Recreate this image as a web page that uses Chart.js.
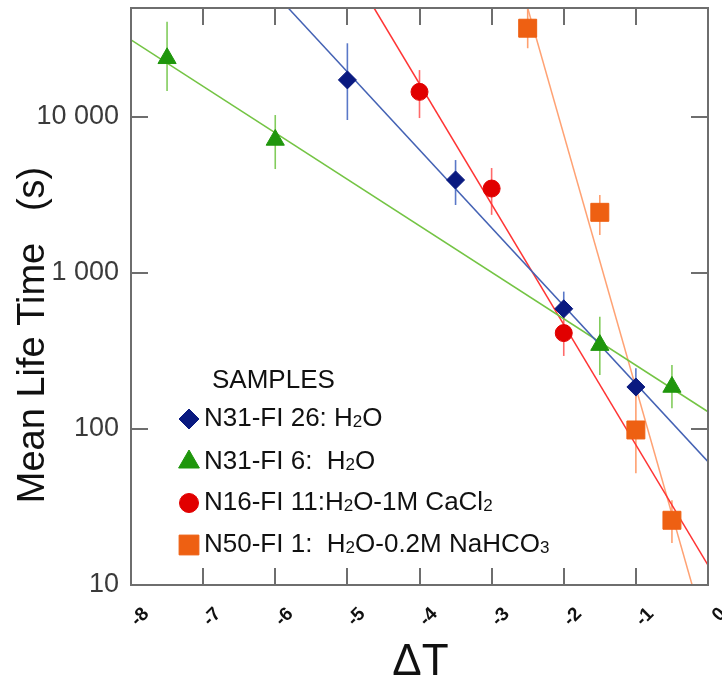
<!DOCTYPE html>
<html>
<head>
<meta charset="utf-8">
<script src="https://cdn.jsdelivr.net/npm/chart.js@4"></script>
<style>
  html, body { margin: 0; padding: 0; background: #fff; }
</style>
</head>
<body>
<canvas id="chart" width="722" height="682"></canvas>
<script>
// axis ticks
const xTicks = [-8, -7, -6, -5, -4, -3, -2, -1, 0];
const yTicks = [10, 100, 1000, 10000];

const legendTitle = "SAMPLES";
const seriesNames = [
    "N31-FI 26: H₂O",
    "N31-FI 6:  H₂O",
    "N16-FI 11:H₂O-1M CaCl₂",
    "N50-FI 1:  H₂O-0.2M NaHCO₃"
];

// N31-FI 26
const blueX = [-5, -3.5, -2, -1];
const blueY = [17300, 3950, 590, 186];
const blueLo = [9570, 2730, 500, 160];
const blueHi = [29700, 5300, 760, 245];
const blueFitX = [-5.82, 0];
const blueFitY = [50000, 61.7];

// N31-FI 6
const greenX = [-7.5, -6, -1.5, -0.5];
const greenY = [23800, 7130, 345, 186];
const greenLo = [14700, 4640, 222, 136];
const greenHi = [40800, 10300, 525, 257];
const greenFitX = [-8, 0];
const greenFitY = [31200, 129];

// N16-FI 11
const redX = [-4, -3, -2];
const redY = [14500, 3480, 412];
const redLo = [9850, 2360, 294];
const redHi = [20000, 4710, 575];
const redFitX = [-4.63, 0];
const redFitY = [50000, 13.4];

// N50-FI 1
const orangeX = [-2.5, -1.5, -1, -0.5];
const orangeY = [37100, 2450, 98.6, 26];
const orangeLo = [27600, 1750, 52, 18.6];
const orangeHi = [60000, 3160, 185, 35];
const orangeFitX = [-2.5, -0.22];
const orangeFitY = [50000, 10];

const FONT = '"Liberation Sans", Arial, Helvetica, sans-serif';

const series = [
    { x: blueX, y: blueY, lo: blueLo, hi: blueHi, fx: blueFitX, fy: blueFitY,
      style: "rectRot", r: 9, lr: 10, mark: "#0a1a80", line: "#4462b4", err: "#5a78c8" },
    { x: greenX, y: greenY, lo: greenLo, hi: greenHi, fx: greenFitX, fy: greenFitY,
      style: "triangle", r: 10.5, lr: 12, mark: "#1f960c", line: "#74c444", err: "#82cc5c" },
    { x: redX, y: redY, lo: redLo, hi: redHi, fx: redFitX, fy: redFitY,
      style: "circle", r: 8.5, lr: 9.5, mark: "#e10000", line: "#ff3434", err: "#ff6a6a" },
    { x: orangeX, y: orangeY, lo: orangeLo, hi: orangeHi, fx: orangeFitX, fy: orangeFitY,
      style: "rect", r: 12.7, lr: 14, mark: "#ee6012", line: "#ffa274", err: "#ffa070" }
];

const pts = (xs, ys) => xs.map((x, i) => ({ x, y: ys[i] }));

const datasets = [];
series.forEach((s, i) => {
    datasets.push({
        label: seriesNames[i],
        data: pts(s.x, s.y),
        showLine: false,
        pointStyle: s.style,
        pointRadius: s.r,
        backgroundColor: s.mark,
        borderColor: s.mark,
        borderWidth: 1,
        order: 1
    });
    datasets.push({
        label: seriesNames[i] + " fit",
        data: pts(s.fx, s.fy),
        showLine: true,
        pointRadius: 0,
        borderColor: s.line,
        borderWidth: 1.5,
        fill: false,
        order: 2
    });
});

function fmtTick(v) {
    return String(v).replace(/\B(?=(\d{3})+(?!\d))/g, " ");
}

// vertical error bars under the markers
const errorBars = {
    id: "errorBars",
    beforeDatasetsDraw(chart) {
        const { ctx, chartArea: a, scales: { x, y } } = chart;
        ctx.save();
        ctx.beginPath();
        ctx.rect(a.left, a.top, a.right - a.left, a.bottom - a.top);
        ctx.clip();
        ctx.lineWidth = 1.6;
        series.forEach(s => {
            ctx.strokeStyle = s.err;
            s.x.forEach((v, i) => {
                const px = x.getPixelForValue(v);
                ctx.beginPath();
                ctx.moveTo(px, y.getPixelForValue(s.hi[i]));
                ctx.lineTo(px, y.getPixelForValue(s.lo[i]));
                ctx.stroke();
            });
        });
        ctx.restore();
    }
};

// box with inward ticks + axis titles
const frame = {
    id: "frame",
    afterDatasetsDraw(chart) {
        const { ctx, chartArea: a, scales: { x, y } } = chart;
        ctx.save();
        ctx.strokeStyle = "#6e6e6e";
        ctx.lineWidth = 2;
        ctx.strokeRect(a.left, a.top, a.right - a.left, a.bottom - a.top);
        ctx.beginPath();
        const tl = 17;
        xTicks.forEach(v => {
            const px = Math.round(x.getPixelForValue(v));
            ctx.moveTo(px, a.top); ctx.lineTo(px, a.top + tl);
            ctx.moveTo(px, a.bottom); ctx.lineTo(px, a.bottom - tl);
        });
        yTicks.forEach(v => {
            const py = Math.round(y.getPixelForValue(v));
            ctx.moveTo(a.left, py); ctx.lineTo(a.left + tl, py);
            ctx.moveTo(a.right, py); ctx.lineTo(a.right - tl, py);
        });
        ctx.stroke();

        ctx.fillStyle = "#111";
        ctx.textAlign = "center";
        ctx.textBaseline = "alphabetic";
        ctx.font = "44px " + FONT;
        ctx.fillText("ΔT", (a.left + a.right) / 2 + 1, 675);

        ctx.translate(44, 335);
        ctx.rotate(-Math.PI / 2);
        ctx.font = "38px " + FONT;
        ctx.fillText("Mean Life Time   (s)", 0, 0);
        ctx.restore();
    }
};

function drawRich(ctx, text, x, y, size) {
    let cx = x;
    text.split(/([₀-₉]+)/).forEach(part => {
        if (!part) return;
        const sub = /[₀-₉]/.test(part);
        const t = sub ? part.replace(/[₀-₉]/g, c => String.fromCharCode(c.charCodeAt(0) - 0x2080 + 48)) : part;
        ctx.font = (sub ? Math.round(size * 0.64) : size) + "px " + FONT;
        ctx.fillText(t, cx, sub ? y + 3 : y);
        cx += ctx.measureText(t).width;
    });
}

const legendBox = {
    id: "legendBox",
    afterDraw(chart) {
        const ctx = chart.ctx;
        const rows = [419, 462, 503, 545];
        ctx.save();
        ctx.fillStyle = "#111";
        ctx.textAlign = "left";
        ctx.textBaseline = "middle";
        ctx.font = "26px " + FONT;
        ctx.fillText(legendTitle, 212, 381);
        series.forEach((s, i) => {
            ctx.fillStyle = s.mark;
            ctx.strokeStyle = s.mark;
            ctx.lineWidth = 1;
            Chart.helpers.drawPoint(ctx, { pointStyle: s.style, radius: s.lr, rotation: 0, borderWidth: 1 }, 189, rows[i]);
            ctx.fillStyle = "#111";
            drawRich(ctx, seriesNames[i], 204, rows[i], 26);
        });
        ctx.restore();
    }
};

new Chart(document.getElementById("chart"), {
    type: "scatter",
    data: { datasets },
    options: {
        responsive: false,
        animation: false,
        events: [],
        layout: { autoPadding: false, padding: { top: 8, right: 14, left: 0, bottom: 0 } },
        plugins: { legend: { display: false }, tooltip: { enabled: false } },
        scales: {
            x: {
                type: "linear",
                min: -8,
                max: 0,
                grid: { display: false, drawTicks: false },
                border: { display: false },
                afterBuildTicks: s => { s.ticks = xTicks.map(v => ({ value: v })); },
                afterFit: s => { s.height = 97; s.paddingLeft = 0; s.paddingRight = 0; },
                ticks: {
                    autoSkip: false,
                    minRotation: 45,
                    maxRotation: 45,
                    labelOffset: 15,
                    padding: 18,
                    color: "#111",
                    font: { size: 19, weight: "bold", family: FONT }
                }
            },
            y: {
                type: "logarithmic",
                min: 10,
                max: 50000,
                grid: { display: false, drawTicks: false },
                border: { display: false },
                afterBuildTicks: s => { s.ticks = yTicks.map(v => ({ value: v })); },
                afterFit: s => { s.width = 131; s.paddingTop = 0; s.paddingBottom = 0; },
                ticks: {
                    autoSkip: false,
                    padding: 12,
                    color: "#3a3a3a",
                    font: { size: 27, family: FONT },
                    callback: v => fmtTick(v)
                }
            }
        }
    },
    plugins: [errorBars, frame, legendBox]
});
</script>
</body>
</html>
